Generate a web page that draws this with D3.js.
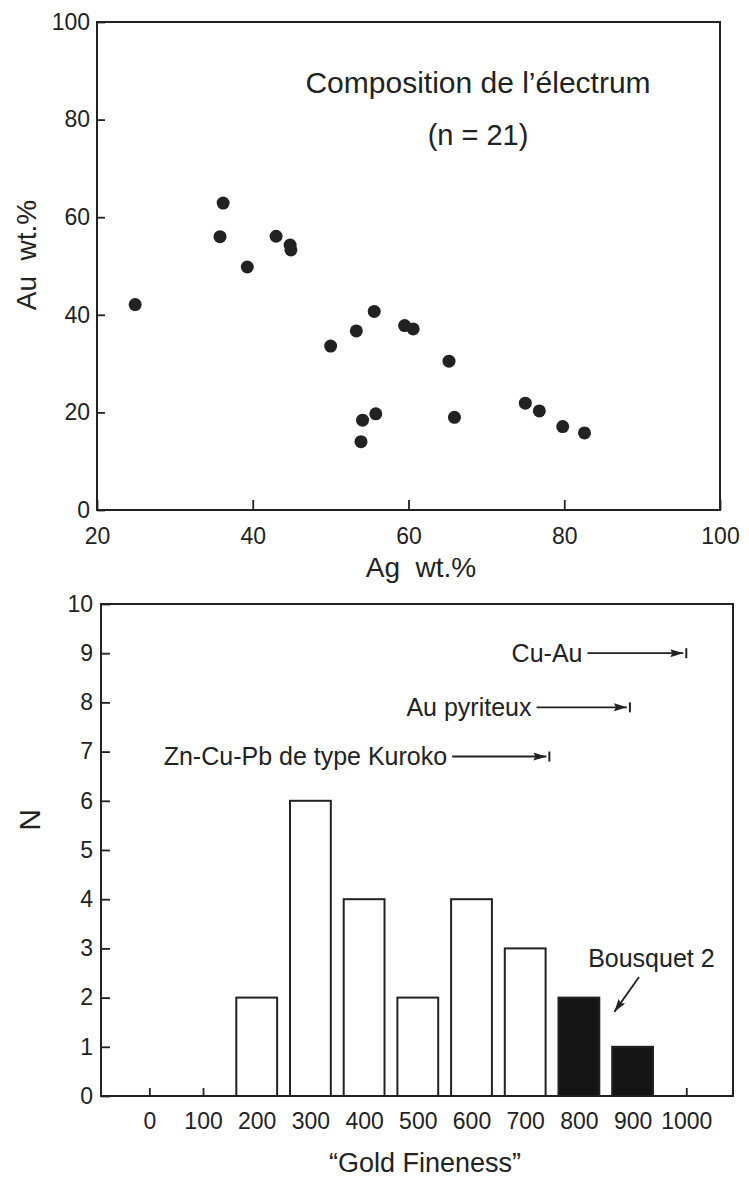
<!DOCTYPE html>
<html>
<head>
<meta charset="utf-8">
<script src="https://cdn.jsdelivr.net/npm/d3@7"></script>
<style>
  body { margin: 0; background: #fff; }
  svg { display: block; font-family: "Liberation Sans", Arial, sans-serif; }
  text { fill: #222; }
</style>
</head>
<body>
<svg width="749" height="1177"></svg>
<script>
// --- top panel: electrum composition (Ag vs Au, wt.%)
var agWt = [36.2, 35.8, 39.3, 43.0, 44.8, 44.9, 24.9, 50.0, 53.3, 55.6, 54.1, 53.9, 55.8,
            59.5, 60.6, 65.2, 65.9, 75.0, 76.8, 79.8, 82.6];
var auWt = [62.9, 56.0, 49.8, 56.1, 54.3, 53.3, 42.1, 33.6, 36.7, 40.7, 18.4, 14.0, 19.7,
            37.8, 37.1, 30.5, 19.0, 21.9, 20.3, 17.1, 15.8];
var agTicks = [20, 40, 60, 80, 100];
var auTicks = [0, 20, 40, 60, 80, 100];

// --- bottom panel: gold fineness histogram
var fineness = [200, 300, 400, 500, 600, 700, 800, 900];
var counts = [2, 6, 4, 2, 4, 3, 2, 1];
var bousquetBins = [800, 900];
var finenessTicks = [0, 100, 200, 300, 400, 500, 600, 700, 800, 900, 1000];
var nTicks = [0, 1, 2, 3, 4, 5, 6, 7, 8, 9, 10];

// deposit-type ranges (arrow start, arrow end, level)
var depositNames = ["Cu-Au", "Au pyriteux", "Zn-Cu-Pb de type Kuroko"];
var depositFrom = [816, 721, 564];
var depositTo = [1000, 895, 745];
var depositLevel = [9, 7.9, 6.9];

var svg = d3.select("svg");
var ink = "#222";

// ================= top scatter =================
var x1 = d3.scaleLinear().domain([20, 100]).range([97, 720]),
    y1 = d3.scaleLinear().domain([0, 100]).range([510, 22]);

var g1 = svg.append("g");

g1.append("rect")
    .attr("x", x1(20)).attr("y", y1(100))
    .attr("width", x1(100) - x1(20)).attr("height", y1(0) - y1(100))
    .attr("fill", "none").attr("stroke", ink).attr("stroke-width", 2);

var xAxis1 = g1.append("g")
    .attr("transform", "translate(0," + y1(0) + ")")
    .call(d3.axisBottom(x1).tickValues(agTicks).tickFormat(d3.format("d"))
        .tickSizeInner(-10).tickSizeOuter(0).tickPadding(18));
var yAxis1 = g1.append("g")
    .attr("transform", "translate(" + x1(20) + ",0)")
    .call(d3.axisLeft(y1).tickValues(auTicks).tickFormat(d3.format("d"))
        .tickSizeInner(-8).tickSizeOuter(0).tickPadding(7));

[xAxis1, yAxis1].forEach(function(a) {
    a.select(".domain").remove();
    a.selectAll("line").attr("stroke", ink).attr("stroke-width", 1.8);
    a.selectAll("text").attr("font-size", 23).attr("fill", ink)
        .attr("font-family", "Liberation Sans, Arial, sans-serif");
});

g1.selectAll(".dot")
    .data(agWt)
    .enter().append("circle")
    .attr("class", "dot")
    .attr("cx", function(d) { return x1(d); })
    .attr("cy", function(d, i) { return y1(auWt[i]); })
    .attr("r", 6.5)
    .attr("fill", ink);

g1.append("text")
    .attr("x", 478).attr("y", 93)
    .attr("text-anchor", "middle").attr("font-size", 30)
    .text("Composition de l\u2019électrum");
g1.append("text")
    .attr("x", 478).attr("y", 145)
    .attr("text-anchor", "middle").attr("font-size", 29)
    .text("(n = 21)");

g1.append("text")
    .attr("x", 421).attr("y", 577)
    .attr("text-anchor", "middle").attr("font-size", 28)
    .attr("xml:space", "preserve")
    .text("Ag  wt.%");
g1.append("text")
    .attr("transform", "translate(36,255) rotate(-90)")
    .attr("text-anchor", "middle").attr("font-size", 28)
    .attr("xml:space", "preserve")
    .text("Au  wt.%");

// ================= bottom histogram =================
var x2 = d3.scaleLinear().domain([-90, 1087]).range([101, 733]),
    y2 = d3.scaleLinear().domain([0, 10]).range([1096, 604]);
var binHalf = 38;

var g2 = svg.append("g");

g2.append("rect")
    .attr("x", x2(-90)).attr("y", y2(10))
    .attr("width", x2(1087) - x2(-90)).attr("height", y2(0) - y2(10))
    .attr("fill", "none").attr("stroke", ink).attr("stroke-width", 2);

var xAxis2 = g2.append("g")
    .attr("transform", "translate(0," + y2(0) + ")")
    .call(d3.axisBottom(x2).tickValues(finenessTicks).tickFormat(d3.format("d"))
        .tickSizeInner(-8).tickSizeOuter(0).tickPadding(17));
var yAxis2 = g2.append("g")
    .attr("transform", "translate(" + x2(-90) + ",0)")
    .call(d3.axisLeft(y2).tickValues(nTicks).tickFormat(d3.format("d"))
        .tickSizeInner(-9).tickSizeOuter(0).tickPadding(8));

[xAxis2, yAxis2].forEach(function(a) {
    a.select(".domain").remove();
    a.selectAll("line").attr("stroke", ink).attr("stroke-width", 1.8);
    a.selectAll("text").attr("font-size", 23).attr("fill", ink)
        .attr("font-family", "Liberation Sans, Arial, sans-serif");
});

g2.selectAll(".bar")
    .data(fineness)
    .enter().append("rect")
    .attr("class", "bar")
    .attr("x", function(d) { return x2(d - binHalf); })
    .attr("y", function(d, i) { return y2(counts[i]); })
    .attr("width", function(d) { return x2(d + binHalf) - x2(d - binHalf); })
    .attr("height", function(d, i) { return y2(0) - y2(counts[i]); })
    .attr("fill", function(d) { return bousquetBins.indexOf(d) >= 0 ? "#151515" : "#fff"; })
    .attr("stroke", ink)
    .attr("stroke-width", 2);

// arrowhead
svg.append("defs").append("marker")
    .attr("id", "head")
    .attr("viewBox", "0 0 13 8")
    .attr("refX", 13).attr("refY", 4)
    .attr("markerWidth", 13).attr("markerHeight", 8)
    .attr("markerUnits", "userSpaceOnUse")
    .attr("orient", "auto")
    .append("path")
    .attr("d", "M0,0L13,4L0,8L2,4Z")
    .attr("fill", ink);

depositNames.forEach(function(name, i) {
    var yy = y2(depositLevel[i]);
    g2.append("line")
        .attr("x1", x2(depositFrom[i])).attr("x2", x2(depositTo[i]) - 3)
        .attr("y1", yy).attr("y2", yy)
        .attr("stroke", ink).attr("stroke-width", 1.8)
        .attr("marker-end", "url(#head)");
    g2.append("line")
        .attr("x1", x2(depositTo[i])).attr("x2", x2(depositTo[i]))
        .attr("y1", yy - 5).attr("y2", yy + 5)
        .attr("stroke", ink).attr("stroke-width", 2);
    g2.append("text")
        .attr("x", x2(depositFrom[i]) - 5).attr("y", yy)
        .attr("dy", "0.35em")
        .attr("text-anchor", "end").attr("font-size", 25)
        .text(name);
});

// Bousquet 2 label and pointer
g2.append("text")
    .attr("x", x2(935)).attr("y", y2(2.62))
    .attr("text-anchor", "middle").attr("font-size", 25)
    .text("Bousquet 2");
g2.append("line")
    .attr("x1", x2(912)).attr("y1", y2(2.42))
    .attr("x2", x2(866)).attr("y2", y2(1.71))
    .attr("stroke", ink).attr("stroke-width", 1.8)
    .attr("marker-end", "url(#head)");

g2.append("text")
    .attr("x", 425).attr("y", 1172)
    .attr("text-anchor", "middle").attr("font-size", 27)
    .text("\u201CGold Fineness\u201D");
g2.append("text")
    .attr("transform", "translate(40,820) rotate(-90)")
    .attr("text-anchor", "middle").attr("font-size", 30)
    .text("N");
</script>
</body>
</html>
